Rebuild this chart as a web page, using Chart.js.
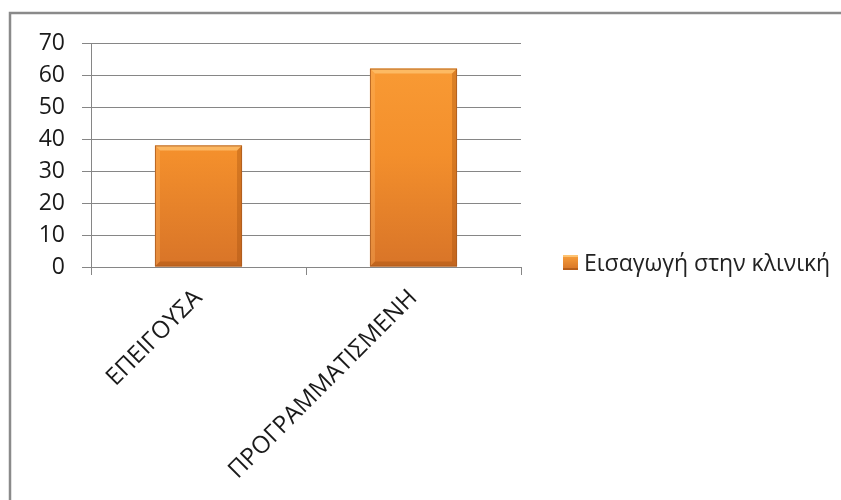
<!DOCTYPE html>
<html>
<head>
<meta charset="utf-8">
<script src="https://cdn.jsdelivr.net/npm/chart.js@4/dist/chart.umd.min.js"></script>
<style>
  body { margin: 0; background: #fff; }
  #wrap { position: relative; width: 841px; height: 500px; overflow: hidden; }
  #leyenda {
    position: absolute; left: 563px; top: 246px;
    font-family: 'Open Sans', 'Liberation Sans', sans-serif;
    font-size: 23px; color: #222; white-space: nowrap;
    display: flex; align-items: center;
  }
  #leyenda .caja {
    width: 15px; height: 15px; margin-right: 6px;
    background: linear-gradient(#f9a03c, #d67326);
    box-shadow: inset 0 -2px 0 rgba(140, 65, 10, 0.45), inset 0 2px 0 rgba(255, 205, 130, 0.8);
  }
</style>
</head>
<body>
<div id="wrap">
  <canvas id="myChart" width="841" height="500"></canvas>
  <div id="leyenda"></div>
</div>
<script>
// categories and values
var categorias = ['ΕΠΕΙΓΟΥΣΑ', 'ΠΡΟΓΡΑΜΜΑΤΙΣΜΕΝΗ'];
var valores = [38, 62];
var serie = 'Εισαγωγή στην κλινική';
var yMin = 0;
var yMax = 70;
var yPaso = 10;

var gris = '#868686';
var fuente = "'Open Sans', 'Liberation Sans', sans-serif";

// gradient fill for the bars, light on top, darker at the base
function degradado(context) {
  var chart = context.chart;
  var area = chart.chartArea;
  if (!area) {
    return '#f39130';
  }
  var g = chart.ctx.createLinearGradient(0, area.top, 0, area.bottom);
  g.addColorStop(0, '#fa9d36');
  g.addColorStop(0.5, '#f38f2c');
  g.addColorStop(1, '#d87428');
  return g;
}

// white background and the frame lines at the top and left
var marco = {
  id: 'marco',
  beforeDraw: function (chart) {
    var ctx = chart.ctx;
    ctx.save();
    ctx.fillStyle = '#ffffff';
    ctx.fillRect(0, 0, chart.width, chart.height);
    ctx.strokeStyle = '#8a8a8a';
    ctx.lineWidth = 2.5;
    ctx.beginPath();
    ctx.moveTo(10, chart.height);
    ctx.lineTo(10, 13);
    ctx.lineTo(chart.width, 13);
    ctx.stroke();
    ctx.restore();
  }
};

// bevel edges on each bar
var bisel = {
  id: 'bisel',
  afterDatasetsDraw: function (chart) {
    var ctx = chart.ctx;
    var meta = chart.getDatasetMeta(0);
    meta.data.forEach(function (bar) {
      var w = bar.width;
      var l = bar.x - w / 2;
      var r = bar.x + w / 2;
      var t = bar.y;
      var b = bar.base;
      var e = 5;
      ctx.save();
      // top
      ctx.fillStyle = 'rgba(255, 200, 120, 0.7)';
      ctx.beginPath();
      ctx.moveTo(l, t); ctx.lineTo(r, t); ctx.lineTo(r - e, t + e); ctx.lineTo(l + e, t + e);
      ctx.closePath(); ctx.fill();
      // left
      ctx.fillStyle = 'rgba(255, 190, 110, 0.3)';
      ctx.beginPath();
      ctx.moveTo(l, t); ctx.lineTo(l + e, t + e); ctx.lineTo(l + e, b - e); ctx.lineTo(l, b);
      ctx.closePath(); ctx.fill();
      // right
      ctx.fillStyle = 'rgba(150, 70, 10, 0.3)';
      ctx.beginPath();
      ctx.moveTo(r, t); ctx.lineTo(r - e, t + e); ctx.lineTo(r - e, b - e); ctx.lineTo(r, b);
      ctx.closePath(); ctx.fill();
      // bottom
      ctx.fillStyle = 'rgba(140, 65, 10, 0.3)';
      ctx.beginPath();
      ctx.moveTo(l, b); ctx.lineTo(r, b); ctx.lineTo(r - e, b - e); ctx.lineTo(l + e, b - e);
      ctx.closePath(); ctx.fill();
      ctx.strokeStyle = 'rgba(170, 90, 30, 0.8)';
      ctx.lineWidth = 1;
      ctx.strokeRect(l + 0.5, t + 0.5, w - 1, b - t - 1);
      ctx.restore();
    });
  }
};

var ctx = document.getElementById('myChart').getContext('2d');
var myChart = new Chart(ctx, {
  type: 'bar',
  data: {
    labels: categorias,
    datasets: [{
      label: serie,
      data: valores,
      backgroundColor: degradado,
      borderWidth: 0,
      categoryPercentage: 1,
      barPercentage: 0.405
    }]
  },
  options: {
    responsive: false,
    animation: false,
    layout: {
      padding: { left: 0, top: 43, right: 320, bottom: 5 }
    },
    plugins: {
      tooltip: { enabled: false },
      legend: { display: false }
    },
    scales: {
      x: {
        offset: true,
        grid: {
          offset: true,
          drawOnChartArea: false,
          drawTicks: true,
          tickLength: 8,
          color: gris
        },
        border: { display: true, color: gris, width: 1 },
        ticks: {
          autoSkip: false,
          minRotation: 45,
          maxRotation: 45,
          padding: 9,
          color: '#1a1a1a',
          font: { family: fuente, size: 24 }
        },
        afterFit: function (scale) {
          scale.height = 228;
        }
      },
      y: {
        min: yMin,
        max: yMax,
        grid: {
          color: gris,
          lineWidth: 1,
          tickLength: 9
        },
        border: { display: true, color: gris, width: 1 },
        ticks: {
          stepSize: yPaso,
          padding: 17,
          color: '#1a1a1a',
          font: { family: fuente, size: 23 }
        },
        afterFit: function (scale) {
          scale.width = 91;
        }
      }
    }
  },
  plugins: [marco, bisel]
});

// legend built from the dataset label
var leyenda = document.getElementById('leyenda');
myChart.data.datasets.forEach(function (ds) {
  var caja = document.createElement('span');
  caja.className = 'caja';
  var texto = document.createElement('span');
  texto.textContent = ds.label;
  leyenda.appendChild(caja);
  leyenda.appendChild(texto);
});
</script>
</body>
</html>
